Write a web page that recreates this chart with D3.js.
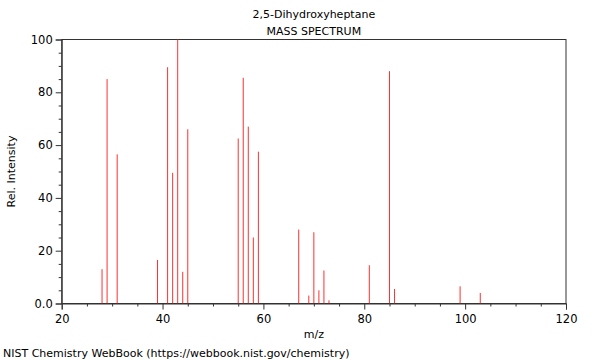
<!DOCTYPE html>
<html>
<head>
<meta charset="utf-8">
<script src="https://cdn.jsdelivr.net/npm/d3@7"></script>
<style>
  body { margin: 0; background: #fff; }
  text { font-family: "DejaVu Sans", sans-serif; fill: #000; }
</style>
</head>
<body>
<svg id="chart" width="600" height="360"></svg>
<script>
const title = "2,5-Dihydroxyheptane";
const subtitle = "MASS SPECTRUM";
const mz =        [28, 29, 31, 39, 41, 42, 43, 44, 45, 55, 56, 57, 58, 59, 67, 69, 70, 71, 72, 73, 81, 85, 86, 99, 103];
const intensity = [13, 85, 56.5, 16.5, 89.5, 49.5, 100, 12, 66, 62.5, 85.5, 67, 25, 57.5, 28, 3, 27, 5, 12.5, 1.2, 14.5, 88, 5.5, 6.5, 4];
const xTicks = [20, 40, 60, 80, 100, 120];
const yTicks = [0, 20, 40, 60, 80, 100];
const yTickLabels = ["0.0", "20", "40", "60", "80", "100"];

const svg = d3.select("#chart");
const mLeft = 61.7, mRight = 566, mTop = 39.5, mBottom = 303.5;
const x = d3.scaleLinear().domain([20, 120]).range([mLeft, mRight]);
const y = d3.scaleLinear().domain([0, 100]).range([mBottom, mTop]);

// titles
svg.append("text").attr("x", (mLeft + mRight) / 2).attr("y", 18).attr("text-anchor", "middle")
  .style("font-size", "11px").text(title);
svg.append("text").attr("x", (mLeft + mRight) / 2).attr("y", 35).attr("text-anchor", "middle")
  .style("font-size", "11px").text(subtitle);

// frame
svg.append("rect").attr("x", mLeft).attr("y", mTop).attr("width", mRight - mLeft).attr("height", mBottom - mTop)
  .attr("fill", "none").attr("stroke", "#333").attr("stroke-width", 1);

// peaks
svg.append("g").attr("class", "peaks").selectAll("line").data(mz).join("line")
  .attr("x1", d => x(d)).attr("x2", d => x(d))
  .attr("y1", y(0)).attr("y2", (d, i) => y(intensity[i]))
  .style("stroke", "#ff3030").style("stroke-width", "1px");

// x axis
const xAxis = svg.append("g").attr("transform", `translate(0,${mBottom})`)
  .call(d3.axisBottom(x).tickValues(xTicks).tickSize(6).tickFormat(d3.format("d")));
svg.append("g").attr("transform", `translate(0,${mBottom})`)
  .call(d3.axisBottom(x).tickValues(d3.range(25, 120, 5).filter(v => v % 20 !== 0)).tickSize(3).tickFormat(""))
  .call(g => g.select(".domain").remove());
// y axis
svg.append("g").attr("transform", `translate(${mLeft},0)`)
  .call(d3.axisLeft(y).tickValues(yTicks).tickSize(6).tickFormat((d, i) => yTickLabels[i]));
svg.append("g").attr("transform", `translate(${mLeft},0)`)
  .call(d3.axisLeft(y).tickValues(d3.range(5, 100, 5).filter(v => v % 20 !== 0)).tickSize(3).tickFormat(""))
  .call(g => g.select(".domain").remove());

svg.selectAll(".tick line, .domain").attr("stroke", "#333");
svg.selectAll(".tick text").style("font-size", "11.5px").style("font-family", "DejaVu Sans, sans-serif").attr("fill", "#000");
xAxis.selectAll(".tick text").attr("dy", "0.95em");

// axis labels
svg.append("text").attr("x", (mLeft + mRight) / 2).attr("y", 338).attr("text-anchor", "middle")
  .style("font-size", "11px").text("m/z");
svg.append("text").attr("transform", `translate(15,${(mTop + mBottom) / 2}) rotate(-90)`)
  .attr("text-anchor", "middle").style("font-size", "11px").text("Rel. Intensity");

// footer
svg.append("text").attr("x", 3).attr("y", 357).style("font-size", "11px")
  .text("NIST Chemistry WebBook (https://webbook.nist.gov/chemistry)");
</script>
</body>
</html>
